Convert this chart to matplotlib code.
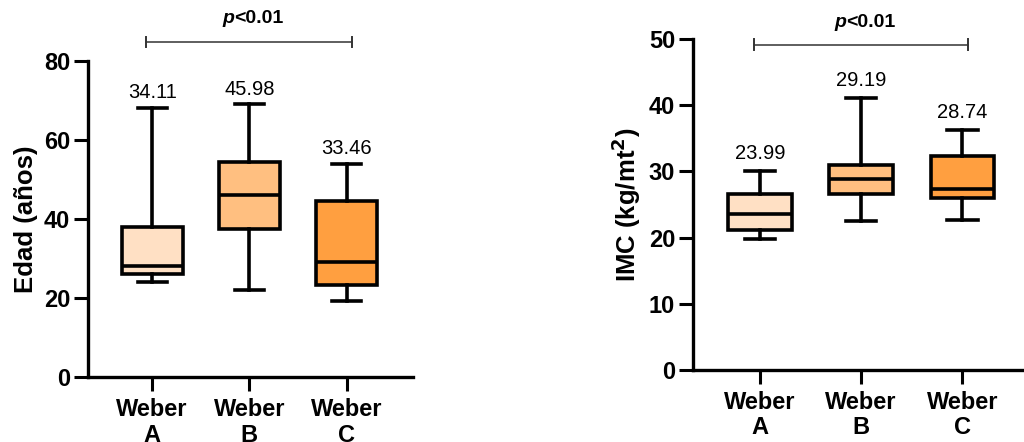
import matplotlib
matplotlib.use("Agg")
import matplotlib.pyplot as plt
from matplotlib.transforms import offset_copy

plt.rcParams['font.family'] = ['Liberation Sans', 'DejaVu Sans']

groups = ["Weber\nA", "Weber\nB", "Weber\nC"]
colors = ["#FFE0C4", "#FFBF80", "#FF9F40"]

# Edad (años): whislo, q1, med, q3, whishi
edad_lo = [24, 22, 19.2]
edad_q1 = [26, 37.4, 23.2]
edad_med = [28, 46, 29]
edad_q3 = [38, 54.5, 44.5]
edad_hi = [68, 69, 54]
edad_mean = ["34.11", "45.98", "33.46"]

# IMC (kg/mt2)
imc_lo = [19.8, 22.5, 22.7]
imc_q1 = [21.1, 26.6, 26.0]
imc_med = [23.5, 28.9, 27.4]
imc_q3 = [26.6, 31.0, 32.3]
imc_hi = [30.1, 41.1, 36.3]
imc_mean = ["23.99", "29.19", "28.74"]


def draw(ax, lo, q1, med, q3, hi, labels, ymax, step, ylabel, lab_off, sig_y, p_y):
    stats = []
    for i in range(3):
        stats.append(dict(whislo=lo[i], q1=q1[i], med=med[i], q3=q3[i],
                          whishi=hi[i], fliers=[]))
    lw = 2.6
    bp = ax.bxp(stats, positions=range(3), widths=0.63, patch_artist=True,
                showfliers=False,
                boxprops=dict(linewidth=lw, edgecolor='black'),
                medianprops=dict(color='black', linewidth=lw),
                whiskerprops=dict(color='black', linewidth=lw),
                capprops=dict(color='black', linewidth=lw),
                capwidths=0.3)
    for patch, c in zip(bp['boxes'], colors):
        patch.set_facecolor(c)

    for i in range(3):
        ax.text(i, hi[i] + lab_off, labels[i], ha='center', va='bottom',
                fontsize=14.5)

    # significance bar
    ax.plot([-0.06, 2.06], [sig_y, sig_y], color='#333333', lw=1.1,
            clip_on=False)
    tick = ymax * 0.02
    for x in (-0.06, 2.06):
        ax.plot([x, x], [sig_y - tick * 0.8, sig_y + tick * 0.9],
                color='#333333', lw=1.4, clip_on=False)
    # "p" italic bold + "<0.01" bold, joined left of centre
    tr_p = offset_copy(ax.transData, fig=ax.figure, x=-15, y=0, units='dots')
    ax.text(1, p_y, 'p', ha='right', va='bottom', fontsize=14,
            fontweight='bold', fontstyle='italic', transform=tr_p, clip_on=False)
    ax.text(1, p_y, '<0.01', ha='left', va='bottom', fontsize=14,
            fontweight='bold', transform=tr_p, clip_on=False)

    ax.set_xlim(-0.66, 2.68)
    ax.set_ylim(0, ymax)
    ax.set_yticks(range(0, ymax + 1, step))
    ax.set_xticks(range(3))
    ax.set_xticklabels(groups, fontsize=17, fontweight='bold', linespacing=1.15)
    for t in ax.get_yticklabels():
        t.set_fontsize(17)
        t.set_fontweight('bold')
    ax.set_ylabel(ylabel, fontsize=18.5, fontweight='bold', labelpad=4)
    for s in ('top', 'right'):
        ax.spines[s].set_visible(False)
    for s in ('left', 'bottom'):
        ax.spines[s].set_linewidth(2.4)
    ax.tick_params(axis='both', width=2.2, length=10, pad=3)
    ax.tick_params(axis='x', pad=5)


fig = plt.figure(figsize=(10.24, 4.42), dpi=100)
ax1 = fig.add_axes([0.086, 0.147, 0.317, 0.715])
ax2 = fig.add_axes([0.677, 0.163, 0.33, 0.749])

draw(ax1, edad_lo, edad_q1, edad_med, edad_q3, edad_hi, edad_mean, 80, 20,
     'Edad (años)', 1.5, 84.7, 88.5)
draw(ax2, imc_lo, imc_q1, imc_med, imc_q3, imc_hi, imc_mean, 50, 10,
     r'IMC (kg/mt$^{\mathbf{2}}$)', 1.2, 49.1, 51.2)

fig.savefig("out.png", dpi=100)
